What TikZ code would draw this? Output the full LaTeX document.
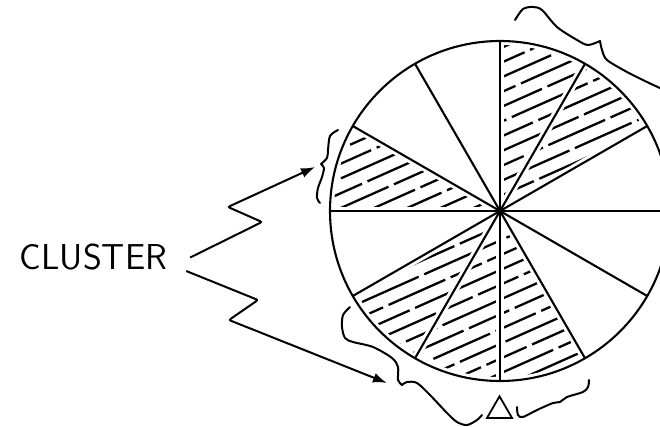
\documentclass[tikz,border=0pt]{standalone}
\usetikzlibrary{arrows.meta, calc, shapes.geometric}
\tikzset{
  rim/.style={line width=2.1pt, line join=round},
  hatch/.style={line width=2.3pt, dash pattern=on 62pt off 6pt},
  wipe/.style={white, line width=8pt},
  brace/.style={line width=2pt, line cap=round, line join=round},
  pointer/.style={-{Latex[length=14pt,width=10pt]}, line width=2pt, rounded corners=2pt},
}
\begin{document}
\begin{tikzpicture}[x=1pt, y=1pt]
  \useasboundingbox (0,0) rectangle (660,426);
  \clip (0,0) rectangle (660,426);
  \coordinate (c) at (500,215);
  \foreach \a/\ph in {30/0,60/21,150/43,210/9,240/37,270/55}{
    \begin{scope}
      \clip (c) -- ($(c)+(\a:170)$) arc[start angle=\a, end angle=\a+30, radius=170] -- cycle;
      \foreach \k in {-13,...,13}{
        \pgfmathsetmacro\dp{mod(\ph+23*\k+680,68)}
        \draw[hatch, dash phase=\dp pt] ($(c)+(114:13.5*\k)+(24:-200)$) -- ++(24:400);
      }
    \end{scope}
  }
  \foreach \a in {0,30,...,150}
    \draw[wipe] ($(c)+(\a:170)$) -- ($(c)+(\a+180:170)$);
  \draw[wipe] (c) circle[radius=170];
  \foreach \a in {0,30,...,150}
    \draw[rim] ($(c)+(\a:170)$) -- ($(c)+(\a+180:170)$);
  \draw[rim] (c) circle[radius=170];

  \draw[brace] plot[smooth] coordinates {(515,406) (523,417) (533,419) (542,416) (557,399) (577,386) (588,381) (600,385)};
  \draw[brace] plot[smooth] coordinates {(600,385) (602,376) (607,366) (627,354) (647,344) (662,337)};
  \draw[brace] plot[smooth] coordinates {(338,296) (330,290) (328,276) (327,268) (321,262)};
  \draw[brace] plot[smooth] coordinates {(321,262) (324,258) (322,249) (318,238) (317,228) (320,223)};
  \draw[brace] plot[smooth] coordinates {(350,119) (343,111) (342,99) (345,88) (353,84) (373,79) (392,68) (398,59) (398,46) (402,41)};
  \draw[brace] plot[smooth] coordinates {(402,41) (407,44) (417,43) (430,31) (447,13) (457,4) (467,1) (477,6) (482,11)};
  \draw[brace] plot[smooth] coordinates {(517,19) (518,11) (523,9) (537,16) (553,23) (560,24) (567,29) (583,34) (588,39) (589,46)};

  \node[draw, regular polygon, regular polygon sides=3, minimum size=29, inner sep=0, line width=1.8pt] (delta) at (499.5,15.2) {};

  \node[font={\fontsize{36}{36}\selectfont\sffamily}, inner sep=0] (cluster) at (93.5,168.5) {CLUSTER};
  \coordinate (ua) at ($(cluster.east)+(23,0)$);
  \coordinate (la) at ($(cluster.east)+(19,-13.5)$);
  \coordinate (uptip) at (315,259);
  \coordinate (lowtip) at (387,43);
  \draw[pointer] (ua) -- (262,204) -- (228,219) -- (uptip);
  \draw[pointer] (la) -- (258,126) -- (229,106) -- (lowtip);
\end{tikzpicture}
\end{document}
